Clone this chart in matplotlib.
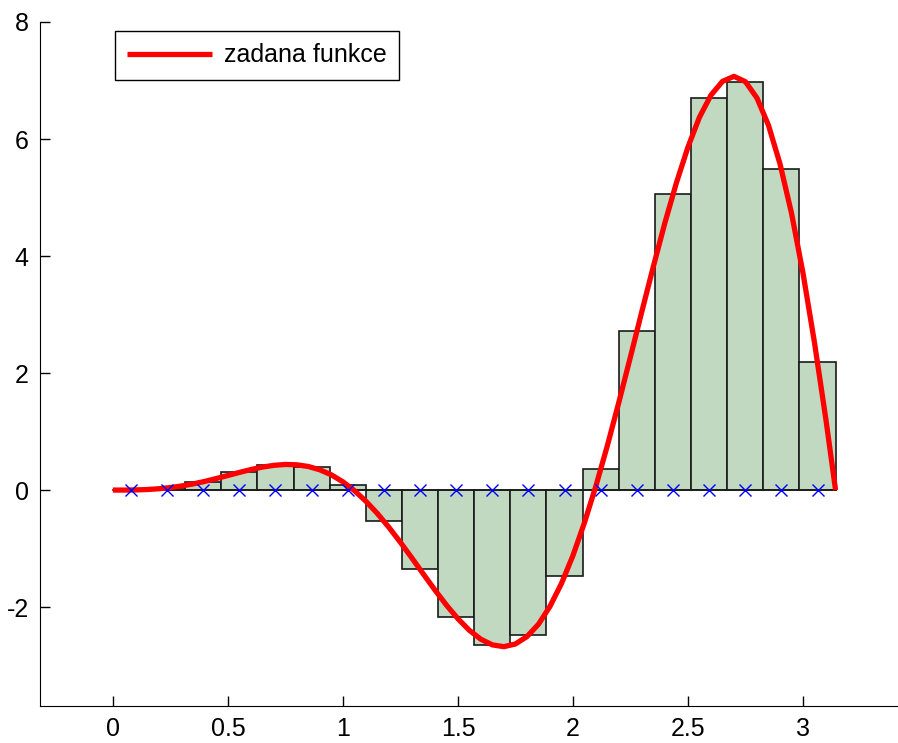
import numpy as np
import matplotlib
matplotlib.use("Agg")
import matplotlib.pyplot as plt

plt.rcParams['font.family'] = ['Liberation Sans', 'DejaVu Sans']
plt.rcParams['axes.unicode_minus'] = False

# hodnoty krivky
x_curve = [0.00, 0.05, 0.10, 0.15, 0.20, 0.25, 0.30, 0.35, 0.40, 0.45,
           0.50, 0.55, 0.60, 0.65, 0.70, 0.75, 0.80, 0.85, 0.90, 0.95,
           1.00, 1.05, 1.10, 1.15, 1.20, 1.25, 1.30, 1.35, 1.40, 1.45,
           1.50, 1.55, 1.60, 1.65, 1.70, 1.75, 1.80, 1.85, 1.90, 1.95,
           2.00, 2.05, 2.10, 2.15, 2.20, 2.25, 2.30, 2.35, 2.40, 2.45,
           2.50, 2.55, 2.60, 2.65, 2.70, 2.75, 2.80, 2.85, 2.90, 2.95,
           3.00, 3.05, 3.10, 3.1416]
y_curve = [0.000, 0.000, 0.003, 0.010, 0.023, 0.043, 0.071, 0.106, 0.149, 0.198,
           0.249, 0.302, 0.351, 0.393, 0.423, 0.438, 0.432, 0.403, 0.346, 0.260,
           0.141, -0.009, -0.191, -0.401, -0.637, -0.893, -1.162, -1.437, -1.708, -1.966,
           -2.199, -2.398, -2.550, -2.646, -2.676, -2.630, -2.504, -2.293, -1.988, -1.597,
           -1.118, -0.557, 0.074, 0.766, 1.508, 2.278, 3.060, 3.829, 4.572, 5.255,
           5.863, 6.373, 6.750, 6.985, 7.071, 6.979, 6.700, 6.234, 5.576, 4.734,
           3.709, 2.519, 1.196, 0.000]

# obdelniky (stredy intervalu a vysky)
x_mid = [0.0785, 0.2356, 0.3927, 0.5498, 0.7069, 0.8639, 1.0210, 1.1781, 1.3352, 1.4923,
         1.6493, 1.8064, 1.9635, 2.1206, 2.2777, 2.4347, 2.5918, 2.7489, 2.9060, 3.0631]
y_mid = [0.001, 0.036, 0.143, 0.301, 0.426, 0.390, 0.082, -0.531, -1.355, -2.165,
         -2.644, -2.480, -1.475, 0.353, 2.711, 5.055, 6.697, 6.982, 5.484, 2.190]
width = 0.15708

fig = plt.figure(figsize=(8.98, 7.43), dpi=100)
ax = fig.add_axes([0.0445, 0.0498, 0.9555, 0.9206])

ax.bar(x_mid, y_mid, width=width, color='#c1d9c1', edgecolor='#1a1a1a',
       linewidth=1.2, zorder=1)
ax.plot([0, 3.1416], [0, 0], color='#1a1a1a', linewidth=1.2, zorder=1.5)
ax.plot(x_curve, y_curve, color='red', linewidth=3.8, label='zadana funkce',
        zorder=2, solid_joinstyle='round', solid_capstyle='butt')
ax.plot(x_mid, [0] * len(x_mid), 'x', color='blue', markersize=8,
        markeredgewidth=1.0, zorder=3)

ax.set_xlim(-0.317, 3.413)
ax.set_ylim(-3.69, 8)
ax.set_xticks([0, 0.5, 1, 1.5, 2, 2.5, 3])
ax.set_xticklabels(['0', '0.5', '1', '1.5', '2', '2.5', '3'])
ax.set_yticks([-2, 0, 2, 4, 6, 8])
ax.tick_params(direction='in', length=7, labelsize=18, width=1, pad=8)
ax.spines['top'].set_visible(False)
ax.spines['right'].set_visible(False)

handles, labels = ax.get_legend_handles_labels()
leg = ax.legend(handles[:1], labels[:1], loc='upper left',
                bbox_to_anchor=(0.0874, 0.987), borderaxespad=0,
                fontsize=18, fancybox=False, framealpha=1, edgecolor='black',
                handlelength=3.4, handletextpad=0.45, borderpad=0.5)
leg.get_frame().set_linewidth(1.0)

plt.savefig('out.png', dpi=100)
plt.close()
